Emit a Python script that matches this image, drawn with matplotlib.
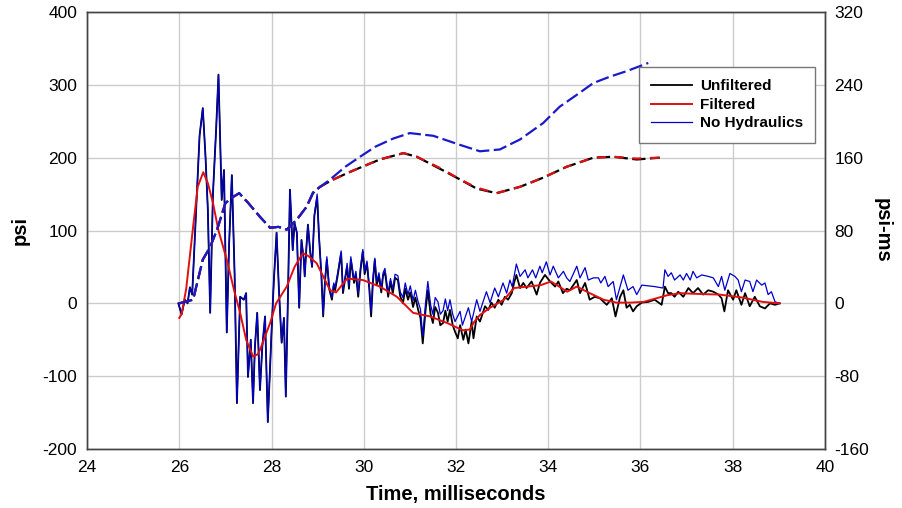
import numpy as np
import matplotlib.pyplot as plt

plt.rcParams['font.family'] = ['Liberation Sans', 'DejaVu Sans']
plt.rcParams['axes.unicode_minus'] = False

# pressure, 26 - 28.9 ms (unfiltered and no-hydraulics traces lie on top of each other here)
spike_t = [25.98, 26.05, 26.12, 26.18, 26.23, 26.28, 26.36, 26.44, 26.51, 26.57, 26.62, 26.67,
           26.73, 26.80, 26.85, 26.92, 26.97, 27.03, 27.08, 27.14, 27.20, 27.25, 27.32, 27.40,
           27.45, 27.49, 27.55, 27.60, 27.64, 27.69, 27.75, 27.80, 27.86, 27.92, 28.00, 28.05,
           28.11, 28.16, 28.22, 28.27, 28.31, 28.36, 28.40, 28.46, 28.50, 28.55, 28.60, 28.65,
           28.70, 28.72, 28.76, 28.79, 28.84]
spike_p = [0, -15, 5, 0, 22, 12, 120, 230, 268, 200, 128, -13,
           150, 240, 314, 142, 183, -40, 80, 176, 40, -137, 9, 5,
           14, -101, -50, -137, -60, -13, -119, -60, -18, -163, -40, 30,
           97, 20, -54, -20, -128, 20, 156, 73, 110, 97, -6, 87,
           60, 37, 80, 108, 70]

# pressure after 28.9 ms
tail_t = [28.88, 28.93, 28.99, 29.03, 29.08, 29.12, 29.16, 29.20, 29.25, 29.31, 29.35, 29.38,
          29.44, 29.51, 29.55, 29.60, 29.64, 29.68, 29.72, 29.79, 29.83, 29.88, 29.93, 29.98,
          30.02, 30.07, 30.12, 30.16, 30.20, 30.24, 30.28, 30.33, 30.38, 30.42, 30.46, 30.53,
          30.58, 30.63, 30.68, 30.74, 30.79, 30.85, 30.90, 30.96, 31.01, 31.07, 31.12, 31.18,
          31.23, 31.28, 31.34, 31.39, 31.45, 31.50, 31.55, 31.61, 31.66, 31.72, 31.77, 31.82,
          31.87, 31.93, 31.98]
unf_tail = [50, 120, 146, 91, 40, -18, 30, 60, 20, 5, 25, 18,
            40, 69, 14, 35, 50, 20, 60, 28, 40, 9, 45, 71,
            40, 55, 20, -18, 30, 60, 25, 37, 15, 38, 43, 9,
            30, 14, 35, 32, 10, 0, 20, 5, 15, -5, 8, -9,
            -20, -55, -10, 18, -15, -27, -5, -13, -30, -27, -10, -25,
            -9, -30, -39]
nh_tail = [50, 122, 150, 95, 42, -15, 32, 64, 24, 8, 28, 22,
           44, 72, 18, 38, 55, 24, 64, 32, 44, 14, 50, 74,
           44, 58, 24, -12, 34, 62, 30, 42, 20, 42, 48, 14,
           34, 20, 40, 38, 16, 8, 28, 12, 24, 4, 18, 2,
           -8, -45, 0, 30, -2, -15, 8, 2, -15, -10, 6, -10,
           5, -15, -25]

unf_t = [32.04, 32.09, 32.16, 32.21, 32.27, 32.34, 32.38, 32.45, 32.52, 32.63, 32.70, 32.77,
         32.84, 32.92, 32.99, 33.06, 33.13, 33.21, 33.26, 33.31, 33.39, 33.46, 33.53, 33.64,
         33.75, 33.82, 33.93, 34.04, 34.15, 34.22, 34.32, 34.40, 34.47, 34.62, 34.69, 34.80,
         34.90, 35.01, 35.12, 35.27, 35.38, 35.46, 35.56, 35.63, 35.70, 35.77, 35.84, 35.92,
         36.03, 36.17, 36.31, 36.46, 36.53, 36.60, 36.67, 36.74, 36.82, 36.93, 37.04, 37.14,
         37.25, 37.36, 37.47, 37.58, 37.69, 37.76, 37.82, 37.90, 38.01, 38.08, 38.19, 38.27,
         38.37, 38.48, 38.59, 38.70, 38.81, 38.92, 39.02]
unf_p = [-48, -30, -50, -36, -55, -25, -48, -18, -25, -4, -9, 1,
         -6, 5, -2, 9, 5, 14, 28, 39, 21, 28, 21, 30,
         12, 28, 39, 30, 23, 30, 14, 20, 18, 32, 14, 28,
         5, 9, 7, -2, 7, -18, 9, 18, -6, -2, -11, -4,
         1, 2, 5, -2, 23, 14, 14, 9, 16, 9, 21, 14,
         21, 12, 18, 16, 12, 7, -11, 18, 5, 18, -2, 14,
         -4, 9, -4, -7, 0, -2, 0]

nh_t = [32.09, 32.14, 32.27, 32.34, 32.45, 32.52, 32.66, 32.74, 32.84, 32.92, 33.02, 33.10,
        33.17, 33.22, 33.31, 33.39, 33.50, 33.56, 33.66, 33.73, 33.82, 33.87, 33.96, 34.04,
        34.11, 34.22, 34.33, 34.40, 34.47, 34.62, 34.69, 34.80, 34.87, 34.98, 35.09, 35.14,
        35.23, 35.30, 35.41, 35.48, 35.63, 35.73, 35.84, 35.92, 36.03, 36.17, 36.31, 36.49,
        36.53, 36.60, 36.67, 36.74, 36.86, 36.93, 37.00, 37.08, 37.14, 37.22, 37.33, 37.47,
        37.58, 37.69, 37.76, 37.83, 37.94, 38.05, 38.12, 38.19, 38.27, 38.37, 38.44, 38.52,
        38.63, 38.70, 38.77, 38.84, 38.92, 39.02]
nh_p = [-11, -30, -6, -25, 5, -11, 16, 1, 21, 9, 28, 14,
        32, 23, 54, 37, 46, 35, 46, 35, 51, 42, 57, 39,
        51, 35, 44, 35, 30, 51, 35, 49, 32, 35, 35, 28,
        37, 23, 30, 5, 39, 18, 23, 12, 25, 24, 23, 21,
        46, 37, 42, 32, 39, 32, 41, 32, 44, 35, 39, 37,
        35, 23, 37, 18, 41, 37, 32, 16, 32, 30, 16, 32,
        25, 28, 12, 16, 2, 0]

filt_t = [26.00, 26.05, 26.15, 26.30, 26.40, 26.52, 26.62, 26.73, 26.85, 27.03, 27.20, 27.32,
          27.45, 27.60, 27.70, 27.75, 27.97, 28.10, 28.33, 28.50, 28.68, 28.80, 28.98, 29.05,
          29.27, 29.40, 29.64, 29.98, 30.35, 30.72, 31.07, 31.44, 31.81, 32.15, 32.30, 32.40,
          32.52, 32.74, 33.04, 33.26, 33.55, 33.84, 34.06, 34.19, 34.41, 34.62, 34.90, 35.20,
          35.48, 35.78, 36.07, 36.35, 36.57, 36.86, 37.22, 37.72, 38.21, 38.65, 39.02]
filt_p = [-20, -15, 20, 105, 160, 180, 165, 138, 100, 60, 15, -13,
          -50, -73, -70, -64, -27, 0, 23, 50, 69, 65, 55, 46,
          18, 15, 34, 32, 23, 9, -13, -18, -27, -37, -36, -25,
          -16, -6, 5, 21, 23, 25, 30, 25, 16, 23, 14, 5,
          1, 1, 2, 7, 11, 14, 13, 12, 8, 2, 0]

# impulse, psi-ms (right axis)
imp_t = [26.00, 26.30, 26.51, 26.67, 26.82, 27.00, 27.14, 27.30, 27.50, 27.75, 27.97, 28.15,
         28.33, 28.55, 28.76, 28.90, 29.05, 29.30, 29.64, 29.92, 30.35, 30.86, 31.15, 31.72,
         32.09, 32.45, 32.88, 33.39, 33.89, 34.40, 34.98, 35.41, 35.92, 36.42]
imp_unf = [0, 4, 48, 62, 81, 110, 116, 121, 110, 95, 83, 84,
           81, 92, 106, 121, 128, 135, 143, 149, 158, 165, 161, 146,
           136, 126, 121, 128, 138, 150, 160, 161, 158, 160]
imp_filt = [0, 4, 48, 62, 81, 110, 116, 121, 110, 95, 83, 84,
            81, 92, 106, 121, 128, 135, 143, 149, 158, 165, 161, 147,
            136, 127, 121, 128, 138, 150, 160, 161, 159, 160]
imp_nh_t = [26.00, 26.30, 26.51, 26.67, 26.82, 27.00, 27.14, 27.30, 27.50, 27.75, 27.97, 28.15,
            28.33, 28.55, 28.76, 28.90, 29.27, 29.60, 29.92, 30.25, 30.64, 31.00, 31.51, 32.09,
            32.52, 32.95, 33.39, 33.89, 34.25, 34.62, 34.98, 35.34, 35.70, 36.17]
imp_nh = [0, 4, 48, 62, 81, 110, 116, 121, 110, 95, 83, 84,
          81, 92, 106, 122, 136, 150, 161, 172, 181, 187, 184, 174,
          167, 169, 180, 198, 216, 229, 242, 249, 255, 264]

t_unf = spike_t + tail_t + unf_t
p_unf = spike_p + unf_tail + unf_p
t_nh = spike_t + tail_t + nh_t
p_nh = spike_p + nh_tail + nh_p

fig = plt.figure(figsize=(9.02, 5.08), dpi=100)
ax = fig.add_axes([0.0965, 0.1161, 0.818, 0.8603])
ax2 = ax.twinx()

l1, = ax.plot(t_unf, p_unf, color='black', lw=1.3, label='Unfiltered')
l3, = ax.plot(t_nh, p_nh, color='#0000cc', lw=0.9, label='No Hydraulics')
l2, = ax.plot(filt_t, filt_p, color='#e01010', lw=1.4, label='Filtered')

ax2.plot(imp_t, imp_unf, color='black', lw=1.6, dashes=(6, 2))
ax2.plot(imp_t, imp_filt, color='#e01010', lw=1.6, dashes=(4, 4), dash_capstyle='butt')
ax2.plot(imp_nh_t, imp_nh, color='#1a1acc', lw=1.6, dashes=(6, 2))

ax.set_xlim(24, 40)
ax.set_ylim(-200, 400)
ax2.set_ylim(-160, 320)
ax.set_xticks(np.arange(24, 41, 2))
ax.set_yticks(np.arange(-200, 401, 100))
ax2.set_yticks(np.arange(-160, 321, 80))
ax.grid(True, color='#cccccc', lw=1.0)
ax.set_axisbelow(True)

for a in (ax, ax2):
    a.tick_params(length=0, labelsize=12.5, pad=7)
    for s in a.spines.values():
        s.set_color('#444444')
        s.set_linewidth(1.0)
ax.tick_params(axis='x', pad=8)

ax.set_xlabel('Time, milliseconds', fontsize=14.5, fontweight='bold', labelpad=7)
ax.set_ylabel('psi', fontsize=14.5, fontweight='bold', labelpad=9)
ax2.set_ylabel('psi-ms', fontsize=14.5, fontweight='bold', rotation=270, labelpad=16)

leg = ax2.legend(handles=[l1, l2, l3], loc='upper left', bbox_to_anchor=(0.748, 0.874),
                 borderaxespad=0, fancybox=False, framealpha=1, edgecolor='#777777',
                 prop={'weight': 'bold', 'size': 11}, handlelength=2.7,
                 labelspacing=0.3, borderpad=0.8, handletextpad=0.5)
leg.get_frame().set_linewidth(1.0)

plt.savefig('out.png', dpi=100)
